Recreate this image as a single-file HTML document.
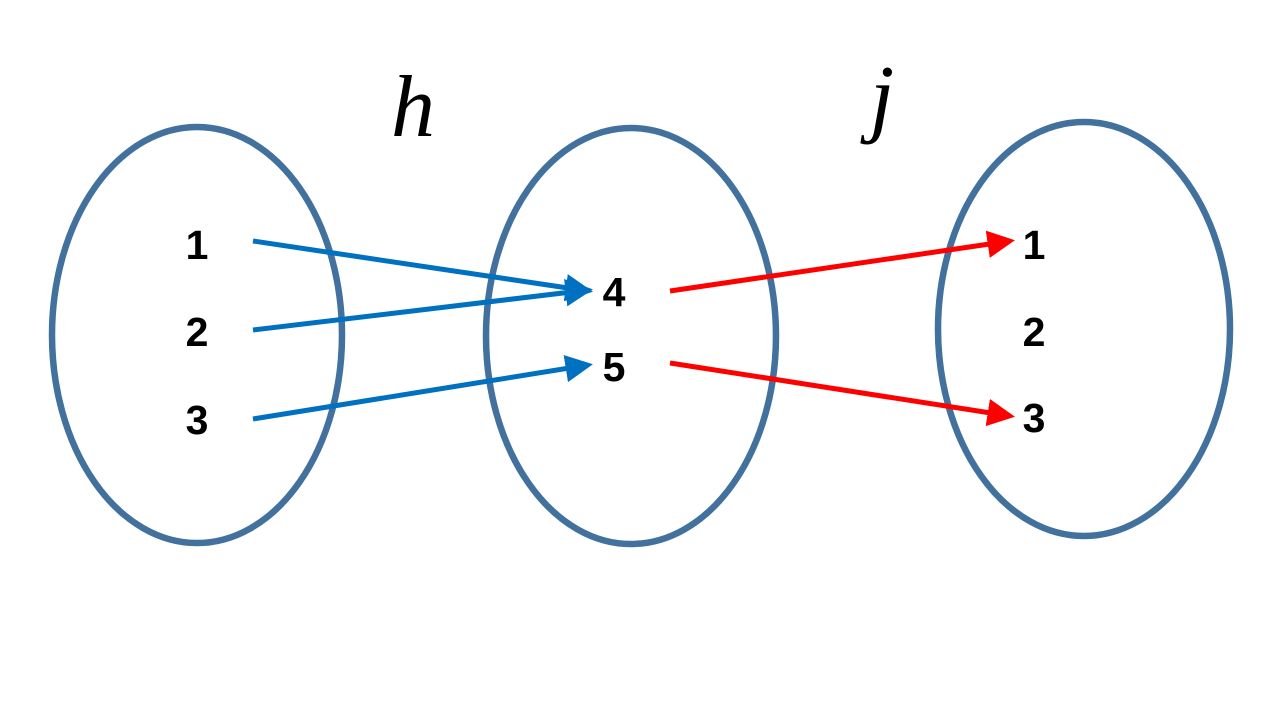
<!DOCTYPE html>
<html><head><meta charset="utf-8"><style>
html,body{margin:0;padding:0;background:#fff;width:1280px;height:720px;overflow:hidden}
</style></head><body>
<svg width="1280" height="720" xmlns="http://www.w3.org/2000/svg">
<defs>
<marker id="ab" markerWidth="5.5" markerHeight="5.5" refX="4.5" refY="2.75" orient="auto" markerUnits="strokeWidth"><path d="M0,0 L5.5,2.75 L0,5.5 Z" fill="#0070c0"/></marker>
<marker id="ar" markerWidth="5.5" markerHeight="5.5" refX="4.5" refY="2.75" orient="auto" markerUnits="strokeWidth"><path d="M0,0 L5.5,2.75 L0,5.5 Z" fill="#ff0000"/></marker>
</defs>
<g fill="none" stroke="#41719c" stroke-width="6.5">
<ellipse cx="197" cy="335" rx="145" ry="208"/>
<ellipse cx="631" cy="336" rx="145" ry="208"/>
<ellipse cx="1084" cy="329" rx="146" ry="207"/>
</g>
<g stroke="#0070c0" stroke-width="5" marker-end="url(#ab)">
<line x1="253" y1="241" x2="588" y2="291"/>
<line x1="253" y1="330" x2="588" y2="290"/>
<line x1="253" y1="419" x2="588" y2="365"/>
</g>
<g stroke="#ff0000" stroke-width="5" marker-end="url(#ar)">
<line x1="670" y1="291" x2="1010" y2="241"/>
<line x1="670" y1="363" x2="1010" y2="416"/>
</g>
<g font-family="Liberation Sans, sans-serif" font-weight="bold" font-size="41" text-anchor="middle" fill="#000">
<text x="197" y="259">1</text>
<text x="197" y="346">2</text>
<text x="197" y="434">3</text>
<text x="614" y="306">4</text>
<text x="614" y="381">5</text>
<text x="1034" y="259">1</text>
<text x="1034" y="346">2</text>
<text x="1034" y="432">3</text>
</g>
<g font-family="Liberation Serif, serif" font-style="italic" font-size="88" text-anchor="middle" fill="#000">
<text x="413" y="136">h</text>
<text x="882" y="126">j</text>
</g>
</svg>
</body></html>
